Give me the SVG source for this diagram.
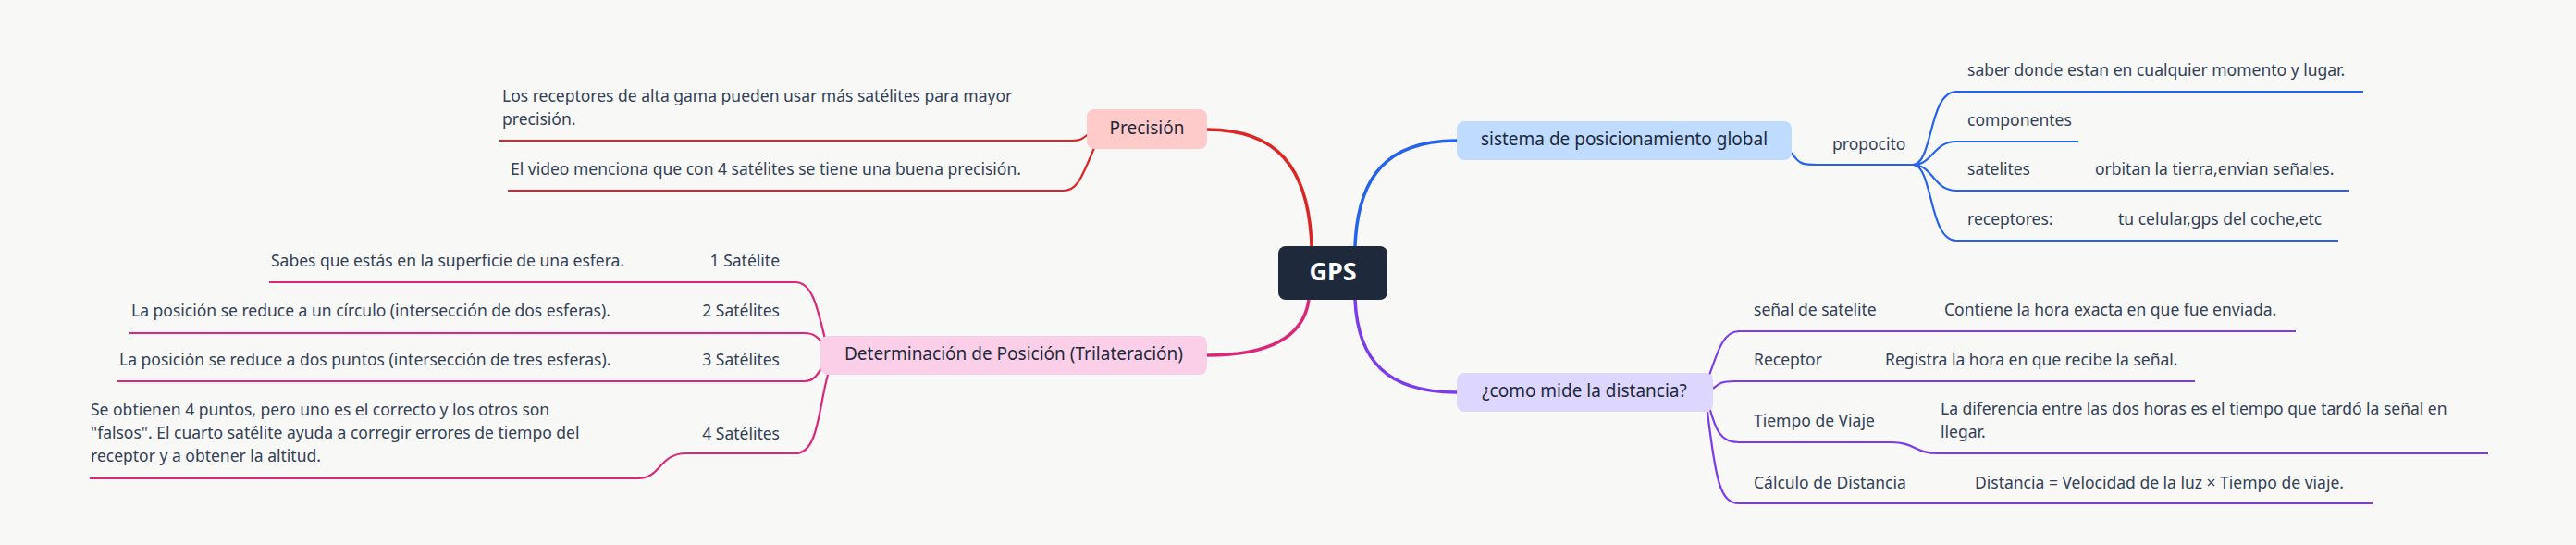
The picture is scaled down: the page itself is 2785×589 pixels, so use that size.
<svg xmlns="http://www.w3.org/2000/svg" width="2785" height="589" viewBox="0 0 2785 589">
<style>
text{font-family:"Noto Sans","DejaVu Sans",sans-serif;font-size:17.5px;fill:#334155;dominant-baseline:middle}
.n{font-size:19px;fill:#1e293b;text-anchor:middle}
.r{text-anchor:end}
path{fill:none}
.red{stroke:#dc2626}.pink{stroke:#db2777}.blue{stroke:#2563eb}.pur{stroke:#7c3aed}
.m{stroke-width:3.5}.c{stroke-width:2.2}
</style>
<rect width="2785" height="589" fill="#f8f8f7"/>
<g id="connectors">
<path class="red m" d="M1305,140 C1380,140 1415,180 1418,266"/>
<path class="pink m" d="M1305,384 C1380,384 1410,360 1415,324"/>
<path class="blue m" d="M1465,266 C1468,190 1500,152 1575,152"/>
<path class="pur m" d="M1465,324 C1468,390 1500,424 1575,424"/>
<path class="red c" d="M540,152 H1160 C1170,152 1172,148 1178,144"/>
<path class="red c" d="M549,206 H1150 C1165,206 1170,190 1183,160"/>
<path class="pink c" d="M291,305 H860 C880,305 885,340 893,370"/>
<path class="pink c" d="M140,360 H870 C880,360 885,365 890,372"/>
<path class="pink c" d="M127,412 H870 C882,412 886,400 890,395"/>
<path class="pink c" d="M97,517 H690 C715,517 712,490 742,490 H860 C885,490 885,440 895,405"/>
<path class="blue c" d="M1937,165 C1945,178 1950,178 1965,178 H2068"/>
<path class="blue c" d="M2068,178 C2090,178 2085,99 2115,99 H2555"/>
<path class="blue c" d="M2068,178 C2090,178 2090,153 2115,153 H2247"/>
<path class="blue c" d="M2068,178 C2090,178 2090,206 2115,206 H2540"/>
<path class="blue c" d="M2068,178 C2090,178 2085,260 2115,260 H2528"/>
<path class="pur c" d="M1846,410 C1855,390 1860,358 1880,358 H2482"/>
<path class="pur c" d="M1852,420 C1858,415 1860,412 1875,412 H2373"/>
<path class="pur c" d="M1848,440 C1855,465 1860,478 1880,478 H2045 C2070,478 2070,490 2095,490 H2690"/>
<path class="pur c" d="M1846,445 C1855,520 1860,544 1880,544 H2566"/>
</g>
<g id="gps"><rect x="1382" y="266" width="118" height="58" rx="8" fill="#1e293b"/><text x="1441" y="296" class="n" style="fill:#fff;font-size:27px;font-weight:bold">GPS</text></g>
<g id="precision"><rect x="1175" y="118" width="130" height="43" rx="8" fill="#fecaca"/><text x="1240" y="140" class="n">Precisión</text></g>
<g id="prec1"><text x="543" y="105">Los receptores de alta gama pueden usar más satélites para mayor</text><text x="543" y="130">precisión.</text></g>
<g id="prec2"><text x="552" y="184">El video menciona que con 4 satélites se tiene una buena precisión.</text></g>
<g id="trilat"><rect x="887" y="363" width="418" height="42" rx="8" fill="#fbcfe8"/><text x="1096" y="384" class="n">Determinación de Posición (Trilateración)</text></g>
<g id="s1"><text x="843" y="283" class="r">1 Satélite</text><text x="293" y="283">Sabes que estás en la superficie de una esfera.</text></g>
<g id="s2"><text x="843" y="337" class="r">2 Satélites</text><text x="142" y="337">La posición se reduce a un círculo (intersección de dos esferas).</text></g>
<g id="s3"><text x="843" y="390" class="r">3 Satélites</text><text x="129" y="390">La posición se reduce a dos puntos (intersección de tres esferas).</text></g>
<g id="s4"><text x="843" y="470" class="r">4 Satélites</text><text x="98" y="444">Se obtienen 4 puntos, pero uno es el correcto y los otros son</text><text x="98" y="469">"falsos". El cuarto satélite ayuda a corregir errores de tiempo del</text><text x="98" y="494">receptor y a obtener la altitud.</text></g>
<g id="sistema"><rect x="1575" y="131" width="362" height="42" rx="8" fill="#bfdbfe"/><text x="1756" y="152" class="n">sistema de posicionamiento global</text></g>
<g id="propocito"><text x="1981" y="157">propocito</text></g>
<g id="p1"><text x="2127" y="77">saber donde estan en cualquier momento y lugar.</text></g>
<g id="p2"><text x="2127" y="131">componentes</text></g>
<g id="p3"><text x="2127" y="184">satelites</text><text x="2265" y="184">orbitan la tierra,envian señales.</text></g>
<g id="p4"><text x="2127" y="238">receptores:</text><text x="2290" y="238">tu celular,gps del coche,etc</text></g>
<g id="distancia"><rect x="1575" y="403" width="277" height="42" rx="8" fill="#ddd6fe"/><text x="1713" y="424" class="n">¿como mide la distancia?</text></g>
<g id="d1"><text x="1896" y="336">señal de satelite</text><text x="2102" y="336">Contiene la hora exacta en que fue enviada.</text></g>
<g id="d2"><text x="1896" y="390">Receptor</text><text x="2038" y="390">Registra la hora en que recibe la señal.</text></g>
<g id="d3"><text x="1896" y="456">Tiempo de Viaje</text><text x="2098" y="443">La diferencia entre las dos horas es el tiempo que tardó la señal en</text><text x="2098" y="468">llegar.</text></g>
<g id="d4"><text x="1896" y="523">Cálculo de Distancia</text><text x="2135" y="523">Distancia = Velocidad de la luz × Tiempo de viaje.</text></g>
</svg>
